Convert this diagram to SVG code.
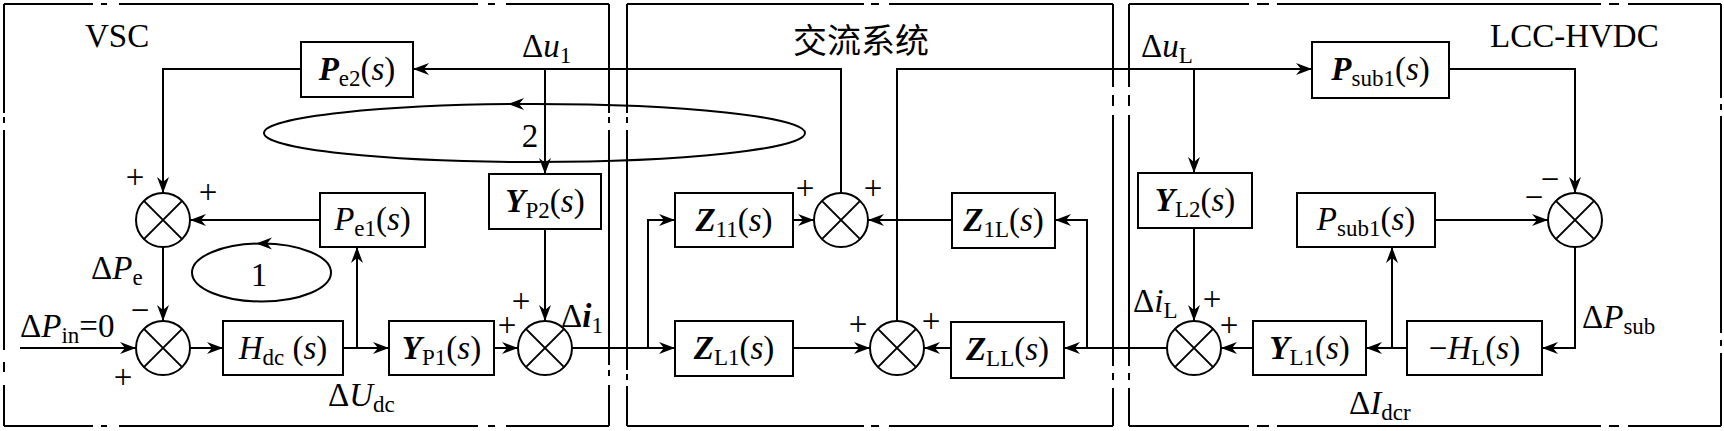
<svg xmlns="http://www.w3.org/2000/svg" width="1724" height="431" viewBox="0 0 1724 431">
<style>
.bd{stroke:#000;stroke-width:2;fill:none}
.ln{stroke:#000;stroke-width:2;fill:none}
.ar{stroke:#000;stroke-width:2;fill:none;marker-end:url(#ah)}
.bx{stroke:#000;stroke-width:2;fill:#fff}
.sm{stroke:#000;stroke-width:2;fill:#fff}
.t{font-family:"Liberation Serif","Times New Roman",serif;font-size:33px;fill:#000}
.i{font-style:italic}
.bi{font-style:italic;font-weight:bold}
.s{font-size:23px}
.cj{font-family:"Noto Sans CJK SC",sans-serif;font-size:34px;fill:#000}
</style>
<defs>
<marker id="ah" markerUnits="userSpaceOnUse" markerWidth="18" markerHeight="14" viewBox="-17 -7 18 14" refX="0" refY="0" orient="auto">
<path d="M0,0 L-16,-6 L-11,0 L-16,6 Z" fill="#000"/>
</marker>
<g id="sum"><circle r="27" class="sm"/><path d="M-19.1,-19.1 L19.1,19.1 M19.1,-19.1 L-19.1,19.1" class="ln"/></g>
</defs>
<rect width="1724" height="431" fill="#fff"/>

<g id="frames">
<path class="bd" d="M4,4 H93 M101,4 H107 M119,4 H478 M488,4 H495 M506,4 H609 M4,426 H93 M101,426 H107 M119,426 H478 M488,426 H495 M506,426 H609 M4,4 V113 M4,117 V123 M4,130 V350 M4,362 V372 M4,385 V426 M609,4 V113 M609,117 V123 M609,130 V365 M609,370 V376 M609,385 V426"/>
<path class="bd" d="M627,4 H864 M871,4 H879 M889,4 H1113 M627,426 H864 M871,426 H879 M889,426 H1113 M627,4 V113 M627,117 V123 M627,130 V370 M627,374 V380 M627,386 V426 M1113,4 V87 M1113,95 V106 M1113,115 V366 M1113,373 V380 M1113,388 V426"/>
<path class="bd" d="M1129,4 H1249 M1257,4 H1269 M1277,4 H1601 M1609,4 H1619 M1628,4 H1721 M1129,426 H1249 M1257,426 H1269 M1277,426 H1601 M1609,426 H1619 M1628,426 H1721 M1129,4 V87 M1129,95 V106 M1129,115 V366 M1129,373 V380 M1129,388 V426 M1721,4 V98 M1721,104 V110 M1721,116 V333 M1721,340 V346 M1721,353 V426"/>
</g>

<g id="loops">
<ellipse cx="534.5" cy="133" rx="270.5" ry="29" class="ln"/>
<path d="M508,104 L524,98 L519,104 L524,110 Z" fill="#000"/>
<ellipse cx="261.5" cy="272.5" rx="69.5" ry="29" class="ln"/>
<path d="M256,243.5 L272,237.5 L267,243.5 L272,249.5 Z" fill="#000"/>
</g>

<g id="connectors">
<path class="ar" d="M841,193 V69 H413"/>
<path class="ar" d="M545,69 V174"/>
<path class="ar" d="M301,69 H163 V193"/>
<path class="ar" d="M320,220 H190"/>
<path class="ar" d="M163,247 V321"/>
<path class="ar" d="M20,348 H136"/>
<path class="ar" d="M190,348 H223"/>
<path class="ar" d="M343,348 H389"/>
<path class="ar" d="M357,348 V247"/>
<path class="ar" d="M494,348 H518"/>
<path class="ar" d="M545,229 V321"/>
<path class="ar" d="M572,348 H675"/>
<path class="ar" d="M648,348 V220 H675"/>
<path class="ar" d="M793,220 H814"/>
<path class="ar" d="M952,220 H868"/>
<path class="ar" d="M793,348 H870"/>
<path class="ar" d="M951,348 H924"/>
<path class="ar" d="M897,321 V69 H1312"/>
<path class="ar" d="M1194,69 V173"/>
<path class="ar" d="M1166,348 H1064"/>
<path class="ar" d="M1087,348 V220 H1055"/>
<path class="ar" d="M1449,69 H1575 V193"/>
<path class="ar" d="M1435,220 H1548"/>
<path class="ar" d="M1575,247 V348 H1542"/>
<path class="ar" d="M1407,348 H1366"/>
<path class="ar" d="M1392,348 V247"/>
<path class="ar" d="M1253,348 H1221"/>
<path class="ar" d="M1194,228 V321"/>
</g>

<g id="s1"><use href="#sum" x="163" y="220"/></g>
<g id="s2"><use href="#sum" x="163" y="348"/></g>
<g id="s3"><use href="#sum" x="545" y="348"/></g>
<g id="s4"><use href="#sum" x="841" y="220"/></g>
<g id="s5"><use href="#sum" x="897" y="348"/></g>
<g id="s6"><use href="#sum" x="1194" y="348"/></g>
<g id="s7"><use href="#sum" x="1575" y="220"/></g>

<g id="Pe2"><rect x="301" y="42" width="112" height="55" class="bx"/><text x="357" y="80" text-anchor="middle" class="t"><tspan class="bi">P</tspan><tspan class="s" dy="6">e2</tspan><tspan dy="-6">(</tspan><tspan class="i">s</tspan>)</text></g>
<g id="Pe1"><rect x="320" y="193" width="105" height="54" class="bx"/><text x="372.5" y="230" text-anchor="middle" class="t"><tspan class="i">P</tspan><tspan class="s" dy="6">e1</tspan><tspan dy="-6">(</tspan><tspan class="i">s</tspan>)</text></g>
<g id="YP2"><rect x="489" y="174" width="112" height="55" class="bx"/><text x="545" y="212" text-anchor="middle" class="t"><tspan class="bi">Y</tspan><tspan class="s" dy="6">P2</tspan><tspan dy="-6">(</tspan><tspan class="i">s</tspan>)</text></g>
<g id="Hdc"><rect x="223" y="321" width="120" height="54" class="bx"/><text x="283" y="359" text-anchor="middle" class="t"><tspan class="i">H</tspan><tspan class="s" dy="6">dc</tspan><tspan dy="-6"> (</tspan><tspan class="i">s</tspan>)</text></g>
<g id="YP1"><rect x="389" y="321" width="105" height="54" class="bx"/><text x="441.5" y="359" text-anchor="middle" class="t"><tspan class="bi">Y</tspan><tspan class="s" dy="6">P1</tspan><tspan dy="-6">(</tspan><tspan class="i">s</tspan>)</text></g>
<g id="Z11"><rect x="675" y="193" width="118" height="54" class="bx"/><text x="734" y="231" text-anchor="middle" class="t"><tspan class="bi">Z</tspan><tspan class="s" dy="6">11</tspan><tspan dy="-6">(</tspan><tspan class="i">s</tspan>)</text></g>
<g id="Z1L"><rect x="952" y="193" width="103" height="55" class="bx"/><text x="1003.5" y="231" text-anchor="middle" class="t"><tspan class="bi">Z</tspan><tspan class="s" dy="6">1L</tspan><tspan dy="-6">(</tspan><tspan class="i">s</tspan>)</text></g>
<g id="ZL1"><rect x="675" y="321" width="118" height="55" class="bx"/><text x="734" y="359" text-anchor="middle" class="t"><tspan class="bi">Z</tspan><tspan class="s" dy="6">L1</tspan><tspan dy="-6">(</tspan><tspan class="i">s</tspan>)</text></g>
<g id="ZLL"><rect x="951" y="322" width="113" height="56" class="bx"/><text x="1007.5" y="360" text-anchor="middle" class="t"><tspan class="bi">Z</tspan><tspan class="s" dy="6">LL</tspan><tspan dy="-6">(</tspan><tspan class="i">s</tspan>)</text></g>
<g id="Psub1b"><rect x="1312" y="42" width="137" height="56" class="bx"/><text x="1380.5" y="80" text-anchor="middle" class="t"><tspan class="bi">P</tspan><tspan class="s" dy="6">sub1</tspan><tspan dy="-6">(</tspan><tspan class="i">s</tspan>)</text></g>
<g id="YL2"><rect x="1138" y="173" width="114" height="55" class="bx"/><text x="1195" y="211" text-anchor="middle" class="t"><tspan class="bi">Y</tspan><tspan class="s" dy="6">L2</tspan><tspan dy="-6">(</tspan><tspan class="i">s</tspan>)</text></g>
<g id="Psub1"><rect x="1297" y="193" width="138" height="54" class="bx"/><text x="1366" y="230" text-anchor="middle" class="t"><tspan class="i">P</tspan><tspan class="s" dy="6">sub1</tspan><tspan dy="-6">(</tspan><tspan class="i">s</tspan>)</text></g>
<g id="YL1"><rect x="1253" y="321" width="113" height="54" class="bx"/><text x="1309.5" y="359" text-anchor="middle" class="t"><tspan class="bi">Y</tspan><tspan class="s" dy="6">L1</tspan><tspan dy="-6">(</tspan><tspan class="i">s</tspan>)</text></g>
<g id="HL"><rect x="1407" y="321" width="135" height="54" class="bx"/><text x="1474.5" y="359" text-anchor="middle" class="t">−<tspan class="i">H</tspan><tspan class="s" dy="6">L</tspan><tspan dy="-6">(</tspan><tspan class="i">s</tspan>)</text></g>

<g id="labels">
<text x="85" y="47" class="t">VSC</text>
<text x="861" y="53" text-anchor="middle" class="cj">交流系统</text>
<text x="1490" y="47" class="t">LCC-HVDC</text>
<text x="522" y="57" class="t">Δ<tspan class="i">u</tspan><tspan class="s" dy="6">1</tspan></text>
<text x="1141" y="57" class="t">Δ<tspan class="i">u</tspan><tspan class="s" dy="6">L</tspan></text>
<text x="530" y="147" text-anchor="middle" class="t">2</text>
<text x="259" y="286" text-anchor="middle" class="t">1</text>
<text x="91" y="279" class="t">Δ<tspan class="i">P</tspan><tspan class="s" dy="6">e</tspan></text>
<text x="20" y="337" class="t">Δ<tspan class="i">P</tspan><tspan class="s" dy="6">in</tspan><tspan dy="-6">=0</tspan></text>
<text x="328" y="406" class="t">Δ<tspan class="i">U</tspan><tspan class="s" dy="6">dc</tspan></text>
<text x="561" y="327" class="t">Δ<tspan class="bi">i</tspan><tspan class="s" dy="6">1</tspan></text>
<text x="1582" y="328" class="t">Δ<tspan class="i">P</tspan><tspan class="s" dy="6">sub</tspan></text>
<text x="1349" y="414" class="t">Δ<tspan class="i">I</tspan><tspan class="s" dy="6">dcr</tspan></text>
<text x="1133" y="312" class="t">Δ<tspan class="i">i</tspan><tspan class="s" dy="6">L</tspan></text>
</g>

<g id="signs" class="t" text-anchor="middle">
<text x="135" y="188">+</text>
<text x="208" y="203">+</text>
<text x="140" y="321">−</text>
<text x="123" y="388">+</text>
<text x="507" y="336">+</text>
<text x="521" y="312">+</text>
<text x="805" y="199">+</text>
<text x="873" y="199">+</text>
<text x="858" y="335">+</text>
<text x="931" y="332">+</text>
<text x="1550" y="190">−</text>
<text x="1534" y="208">−</text>
<text x="1212" y="310">+</text>
<text x="1229" y="336">+</text>
</g>
</svg>
